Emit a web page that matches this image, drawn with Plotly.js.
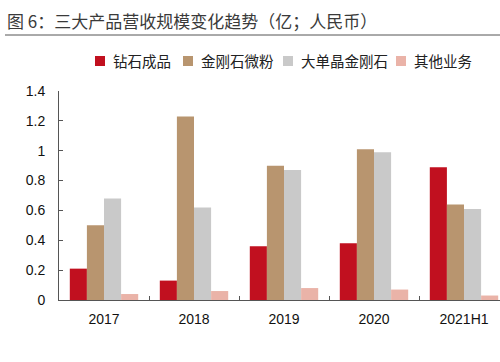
<!DOCTYPE html>
<html>
<head>
<meta charset="utf-8">
<script src="https://cdn.plot.ly/plotly-3.0.1.min.js"></script>
<style>
html,body{margin:0;padding:0;background:#fff;}
#chart{width:500px;height:362px;}
</style>
</head>
<body>
<div id="chart"></div>
<script>
// ---- data ----
const categories = ["2017", "2018", "2019", "2020", "2021H1"];
const seriesNames = ["钻石成品", "金刚石微粉", "大单晶金刚石", "其他业务"];
const diamondProducts = [0.21, 0.13, 0.36, 0.38, 0.89];
const diamondPowder   = [0.50, 1.23, 0.90, 1.01, 0.64];
const singleCrystal   = [0.68, 0.62, 0.87, 0.99, 0.61];
const otherBusiness   = [0.04, 0.06, 0.08, 0.07, 0.03];
const yTickValues = [0, 0.2, 0.4, 0.6, 0.8, 1, 1.2, 1.4];
const yTickLabels = ["0", "0.2", "0.4", "0.6", "0.8", "1", "1.2", "1.4"];
const seriesColors = ["#C1101F", "#B8956F", "#C9C9C9", "#EAB3A8"];
const titleText = "图 6：三大产品营收规模变化趋势（亿；人民币）";

const seriesValues = [diamondProducts, diamondPowder, singleCrystal, otherBusiness];
const cjk = '"Noto Sans CJK SC", "Noto Sans", sans-serif';
const latin = '"Liberation Sans", Arial, sans-serif';

const traces = seriesValues.map((vals, i) => ({
  type: "bar",
  name: seriesNames[i],
  x: categories,
  y: vals,
  marker: {color: seriesColors[i], line: {width: 0}},
  showlegend: false,
  hoverinfo: "x+y+name"
}));

// plot area: x 59..500, y 91..300
const L = 59, R = 0, T = 91, B = 62;
const pw = 500 - L - R, ph = 362 - T - B;
const px = v => (v - L) / pw;
const py = v => (362 - B - v) / ph;

// legend layout (pixel positions of each entry's swatch, left edge)
const legendSwatchX = [95, 183, 283, 396];
const legendY = 61, swatch = 10, textGap = 6;

const shapes = [{
  type: "line", xref: "paper", yref: "paper",
  x0: px(5), x1: px(500), y0: py(35), y1: py(35),
  line: {color: "#555", width: 1}
}];
const annotations = [];
seriesNames.forEach((name, i) => {
  const x0 = legendSwatchX[i];
  shapes.push({
    type: "rect", xref: "paper", yref: "paper",
    x0: px(x0), x1: px(x0 + swatch),
    y0: py(legendY - swatch / 2), y1: py(legendY + swatch / 2),
    fillcolor: seriesColors[i], line: {width: 0}
  });
  annotations.push({
    xref: "paper", yref: "paper",
    x: px(x0 + swatch + textGap), y: py(legendY),
    xanchor: "left", yanchor: "middle",
    text: name, showarrow: false,
    font: {family: cjk, size: 14.5, color: "#222"}
  });
});

const layout = {
  width: 500, height: 362,
  margin: {l: L, r: R, t: T, b: B, pad: 0},
  paper_bgcolor: "#ffffff",
  plot_bgcolor: "#ffffff",
  barmode: "group",
  bargap: 0.24,
  bargroupgap: 0,
  title: {
    text: titleText,
    font: {family: cjk, size: 17, color: "#3a3a3a"},
    x: 7 / 500, xref: "container", xanchor: "left",
    y: 1 - 22 / 362, yref: "container", yanchor: "middle"
  },
  showlegend: false,
  xaxis: {
    type: "category",
    range: [-0.5, 4.4],
    showline: true, linecolor: "#555", linewidth: 1,
    ticks: "inside", ticklen: 4, tickcolor: "#555", tickwidth: 1,
    tickson: "boundaries",
    showgrid: false, zeroline: false,
    tickfont: {family: latin, size: 14, color: "#111"},
    ticklabelstandoff: 6,
    fixedrange: true
  },
  yaxis: {
    range: [0, 1.4],
    tickvals: yTickValues, ticktext: yTickLabels,
    showline: true, linecolor: "#555", linewidth: 1,
    ticks: "inside", ticklen: 4, tickcolor: "#555", tickwidth: 1,
    showgrid: false, zeroline: false,
    tickfont: {family: latin, size: 14, color: "#111"},
    ticklabelstandoff: 10,
    fixedrange: true
  },
  shapes: shapes,
  annotations: annotations
};

Plotly.newPlot("chart", traces, layout, {displayModeBar: false, staticPlot: true});
</script>
</body>
</html>
